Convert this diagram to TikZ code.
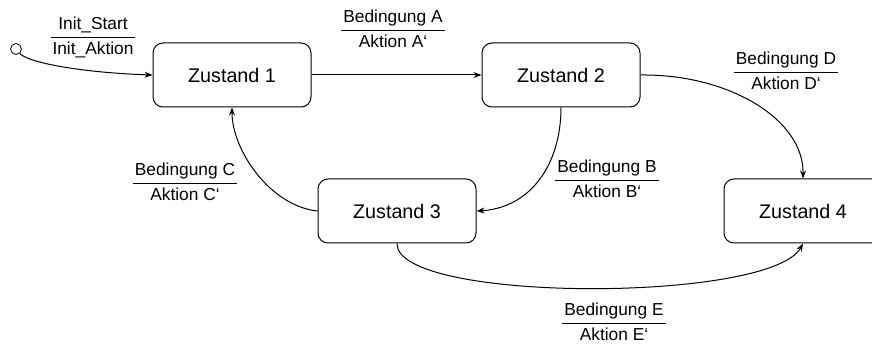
\documentclass[tikz,border=0pt]{standalone}
\usepackage{fontspec}
\setmainfont{Liberation Sans}
\usetikzlibrary{arrows.meta}
\newcommand\trlabel[2]{%
  {\setlength{\tabcolsep}{1.5pt}\renewcommand{\arraystretch}{1.22}%
   \arrayrulewidth=0.6pt
   \begin{tabular}{c}#1\\\hline #2\end{tabular}}}
\begin{document}
\begin{tikzpicture}[x=0.75pt,y=-0.75pt,
  state/.style={draw, line width=0.75pt, rounded corners=7.5pt,
    minimum width=118.5pt, minimum height=48pt, inner sep=0pt,
    font=\fontsize{14.8}{17}\selectfont},
  trans/.style={inner sep=0pt, font=\fontsize{13}{15}\selectfont},
  conn/.style={draw, line width=0.75pt, -{Stealth[length=6pt,width=4.5pt]}},
  startpt/.style={circle, draw, line width=0.6pt, minimum size=8.2pt, inner sep=0pt}]
\useasboundingbox (0,0) rectangle (872,345);
\clip (0,0) rectangle (872,345);

% states
\node[state] (z1) at (232,75) {Zustand 1};
\node[state] (z2) at (561,75) {Zustand 2};
\node[state] (z3) at (397,211) {Zustand 3};
\node[state] (z4) at (803,211) {Zustand 4};
\node[startpt] (init) at (16,49) {};

% transition labels
\node[trans] (linit) at (93,37) {\trlabel{Init\_Start}{Init\_Aktion}};
\node[trans] (la) at (393,30) {\trlabel{Bedingung A}{Aktion A‘}};
\node[trans] (lb) at (607,180) {\trlabel{Bedingung B}{Aktion B‘}};
\node[trans] (lc) at (185,183) {\trlabel{Bedingung C}{Aktion C‘}};
\node[trans] (ld) at (786,72) {\trlabel{Bedingung D}{Aktion D‘}};
\node[trans] (le) at (614,323) {\trlabel{Bedingung E}{Aktion E‘}};

% transitions
\draw[conn] (init.-50) .. controls (30,64) and (90,73) .. (z1.west);
\draw[conn] (z1.east) -- (z2.west);
\draw[conn] (z2.east) .. controls (730,74) and (804,120) .. (z4.north);
\draw[conn] (z2.south) .. controls (561,165) and (530,208) .. (z3.east);
\draw[conn] (z3.west) .. controls (270,206) and (232,150) .. (z1.south);
\draw[conn] (z3.south) .. controls (396,303) and (770,303) .. (z4.south);
\end{tikzpicture}
\end{document}
